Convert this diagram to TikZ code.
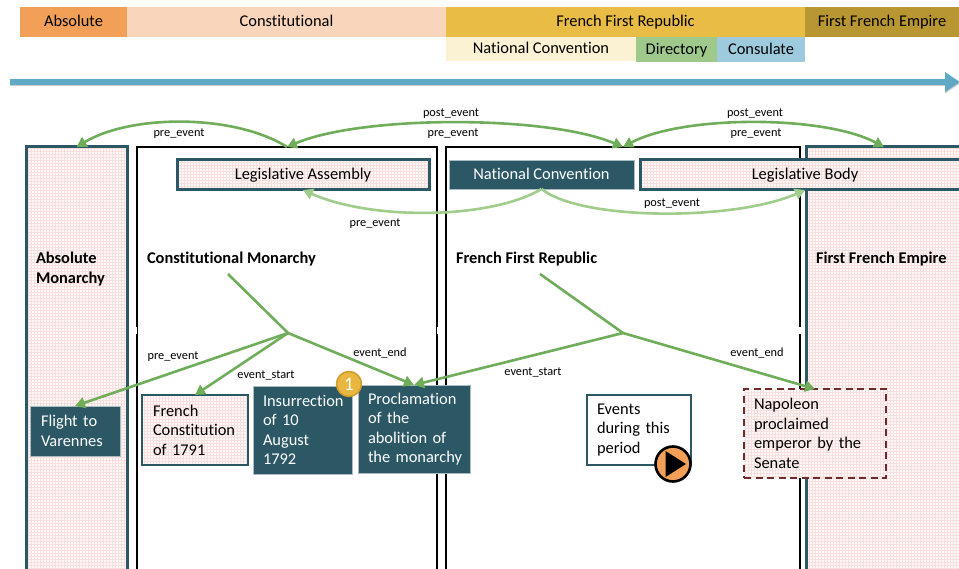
\documentclass[tikz,border=0pt]{standalone}
\usepackage{fontspec}
\setmainfont{Carlito}[Ligatures={NoCommon}]
\usetikzlibrary{arrows.meta}
\definecolor{cAbs}{HTML}{F2A058}
\definecolor{cCon}{HTML}{F8D5BB}
\definecolor{cRep}{HTML}{E8BC45}
\definecolor{cEmp}{HTML}{B89632}
\definecolor{cNat}{HTML}{FBF2D4}
\definecolor{cDir}{HTML}{9FC98B}
\definecolor{cCsl}{HTML}{9DCBDD}
\definecolor{cTeal}{HTML}{2C5866}
\definecolor{cLine}{HTML}{5FA9C4}
\definecolor{cGreen}{HTML}{70AD5A}
\definecolor{cLight}{HTML}{A0CC8C}
\definecolor{cPink}{HTML}{FEF9F8}
\definecolor{cGrid}{HTML}{F6DFDC}
\definecolor{cDash}{HTML}{6E2B2B}
\definecolor{cGold}{HTML}{E9B73F}
\definecolor{cGoldD}{HTML}{CF9C2E}
\newcommand{\pbox}[7]{%
  \pgfmathsetmacro{\pw}{#5-#3}\pgfmathsetmacro{\ph}{#6-#4}%
  \pgfmathsetmacro{\pcx}{(#3+#5)/2}\pgfmathsetmacro{\pcy}{(#4+#6)/2}%
  \node[#2,minimum width=\pw pt,minimum height=\ph pt] (#1) at (\pcx,\pcy) {#7};}
\tikzset{
  x=1pt,y=-1pt,
  every node/.style={inner sep=0pt,outer sep=0pt,font=\fontsize{16.4}{19.5}\selectfont},
  one/.style={text height=13pt,text depth=3pt},
  band/.style={fill=#1,text=black,one},
  gridfill/.style={fill=cPink,path picture={
     \draw[solid,cGrid,line width=.4pt,step=3pt] (path picture bounding box.south west) grid (path picture bounding box.north east);}},
  tealbox/.style={draw=cTeal,line width=3pt,gridfill},
  blackcol/.style={draw=black,line width=2.6pt,fill=white},
  solidbox/.style={fill=cTeal,draw=cTeal!40,line width=.5pt,text=white},
  leftbox/.style={align=left,text width=#1},
  lbl/.style={font=\fontsize{12.3}{13}\selectfont,text=black},
  head/.style={font=\bfseries\fontsize{16.4}{20}\selectfont,anchor=west,align=left},
  link/.style={draw=cGreen,line width=2.6pt,-{Triangle[length=10pt,width=11pt]}},
  dlink/.style={draw=cGreen,line width=2.6pt,{Triangle[length=10pt,width=11pt]}-{Triangle[length=10pt,width=11pt]}},
  plain/.style={draw=cGreen,line width=2.6pt},
  soft/.style={draw=cLight,line width=2.6pt,-{Triangle[length=10pt,width=11pt]}},
}
\hfuzz=20pt
\begin{document}
\begin{tikzpicture}
\useasboundingbox (0,0) rectangle (959,569);
\clip (0,0) rectangle (959,569);
% period bands
\pbox{bAbs}{band=cAbs}{20}{7}{127}{37}{Absolute}
\pbox{bCon}{band=cCon}{127}{7}{446}{37}{Constitutional}
\pbox{bRep}{band=cRep}{446}{7}{805}{37}{French First Republic}
\pbox{bEmp}{band=cEmp}{805}{7}{959}{37}{First French Empire}
\pbox{bNat}{band=cNat}{446}{37}{636}{61}{National Convention}
\pbox{bDir}{band=cDir}{636}{37}{717}{62}{Directory}
\pbox{bCsl}{band=cCsl}{717}{37}{805}{62}{Consulate}
% timeline
\coordinate (tlS) at (10,82);
\coordinate (tlE) at (960,82);
\draw[black!45,opacity=.45,line width=6pt,-{Triangle[length=15pt,width=19pt]}] ([yshift=-1.5pt]tlS) -- ([yshift=-1.5pt]tlE);
\draw[cLine,line width=6pt,-{Triangle[length=15pt,width=19pt]}] (tlS) -- (tlE);
% columns
\pbox{colA}{tealbox}{26}{147}{127}{600}{}
\pbox{colB}{blackcol}{137}{147}{437}{600}{}
\pbox{colC}{blackcol}{446}{147}{800}{600}{}
\pbox{colD}{tealbox}{806}{147}{962}{600}{}
% small gaps in the column sides
\fill[white] (135,327) rectangle (136.6,334);
\fill[white] (437.4,327) rectangle (439,334);
\fill[white] (798,327) rectangle (801.6,334);
% column headings
\node[head] (hA) at (36,269.5) {Absolute\\Monarchy};
\node[head] (hB) at (147,259.5) {Constitutional Monarchy};
\node[head] (hC) at (456,259.5) {French First Republic};
\node[head] (hD) at (816,259.5) {First French Empire};
% top row
\pbox{la}{tealbox,one}{177}{160}{429}{190}{Legislative Assembly}
\pbox{nc}{solidbox,one}{449}{160}{634}{189}{National Convention}
\pbox{lb}{tealbox,one}{640}{160}{970}{190}{Legislative Body}
% event boxes
\pbox{flight}{solidbox,leftbox=68pt}{30}{406}{120}{456}{Flight to\\Varennes}
\pbox{fc}{tealbox,leftbox=84pt,line width=2.2pt}{142}{395}{248}{465}{French\\Constitution\\of 1791}
\pbox{ins}{solidbox,leftbox=79pt}{253}{386}{352}{474}{Insurrection\\of 10\\August\\1792}
\pbox{pro}{solidbox,leftbox=92pt}{358}{385}{470}{473}{Proclamation\\of the\\\mbox{abolition of}\\\mbox{the monarchy}}
\pbox{evt}{draw=cTeal,line width=2.2pt,fill=white,leftbox=84pt}{587}{395}{691}{465}{Events\\\mbox{during this}\\period}
\pbox{nap}{gridfill,draw=cDash,line width=2.6pt,dash pattern=on 7pt off 4.5pt,leftbox=122pt}{744}{389}{886}{478}{Napoleon\\proclaimed\\\mbox{emperor by the}\\Senate}
% hubs
\coordinate (hubB) at (288,333);
\coordinate (hubC) at (623,333);
\coordinate (stB) at (228,274);
\coordinate (stC) at (540,274);
% connectors
\draw[link] (colB.north) .. controls +(-52,-33) and +(55,-33) .. (colA.north);
\draw[dlink] (colB.north) .. controls +(75,-32) and +(-75,-32) .. (colC.north);
\draw[dlink] (colC.north) .. controls +(60,-32) and +(-60,-32) .. (colD.north);
\draw[soft] (nc.south) .. controls +(-50,30) and +(70,31) .. (la.south);
\draw[soft] (nc.south) .. controls +(40,32) and +(-70,31) .. (lb.south);
\draw[plain] (stB) -- (hubB);
\draw[plain] (stC) -- (hubC);
\draw[link] (hubB) -- (flight.north);
\draw[link] (hubB) -- (fc.north);
\draw[link] (hubB) -- (pro.north);
\draw[link] (hubC) -- (pro.north);
\draw[link] (hubC) -- (nap.north);
% labels
\node[lbl] (l1) at (179,133.5) {pre\_event};
\node[lbl] (l2) at (451,113.5) {post\_event};
\node[lbl] (l3) at (453,133.5) {pre\_event};
\node[lbl] (l4) at (755,113.5) {post\_event};
\node[lbl] (l5) at (756,133.5) {pre\_event};
\node[lbl] (l6) at (375,223.5) {pre\_event};
\node[lbl] (l7) at (672,203.5) {post\_event};
\node[lbl] (l8) at (173,356.5) {pre\_event};
\node[lbl] (l9) at (266,375.5) {event\_start};
\node[lbl] (l10) at (380,353) {event\_end};
\node[lbl] (l11) at (533,372.5) {event\_start};
\node[lbl] (l12) at (757,353.5) {event\_end};
% badges
\node[circle,draw=cGoldD,line width=1.5pt,fill=cGold,minimum size=25pt,text=white,font=\fontsize{19}{20}\selectfont] (badge) at (349,384) {1};
\node[circle,draw=black,line width=2.6pt,fill=cAbs,minimum size=35pt] (play) at (673,464) {};
\fill[black] (665.5,451) -- (686,464) -- (665.5,477) -- cycle;
\end{tikzpicture}
\end{document}
